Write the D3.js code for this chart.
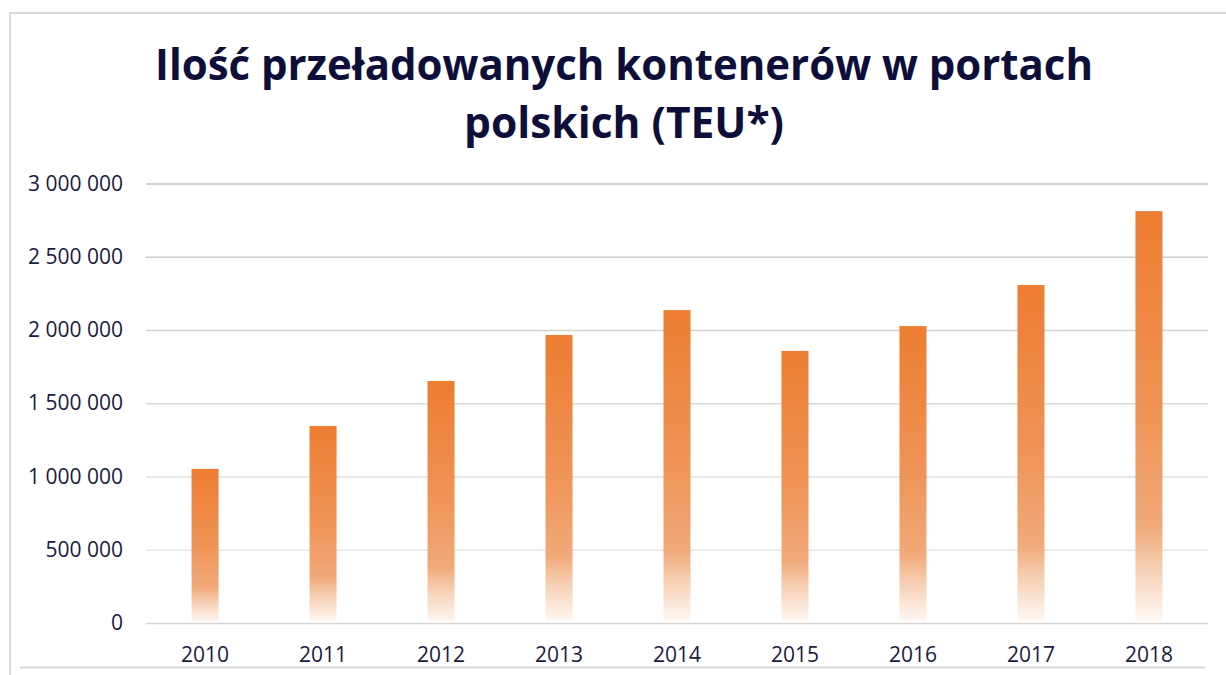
<!DOCTYPE html>
<html>
<head>
<meta charset="utf-8">
<script src="https://cdn.jsdelivr.net/npm/d3@7"></script>
<style>
  html, body { margin: 0; padding: 0; background: #fff; }
  svg { display: block; }
</style>
</head>
<body>
<div id="chart"></div>
<script>
const years = ['2010', '2011', '2012', '2013', '2014', '2015', '2016', '2017', '2018'];
const teu = [1052000, 1345000, 1652000, 1966000, 2136000, 1857000, 2027000, 2307000, 2811000];
const yTicks = [0, 500000, 1000000, 1500000, 2000000, 2500000, 3000000];
const titleLines = ['Ilość przeładowanych kontenerów w portach', 'polskich (TEU*)'];

const totalW = 1226, totalH = 675;
const margin = { top: 183.5, right: 18, bottom: 52, left: 146 };
const W = totalW - margin.left - margin.right;
const H = totalH - margin.top - margin.bottom;

const plFormat = d3.formatLocale({ thousands: '\u00a0', grouping: [3], decimal: ',', currency: ['', ' zł'] }).format(',d');

const svg = d3.select('#chart').append('svg')
  .attr('width', totalW).attr('height', totalH);

// frame
const frame = svg.append('g').attr('stroke', '#d9d9d9').attr('stroke-width', 2).attr('fill', 'none');
frame.append('path').attr('d', `M10,${totalH} V13 H${totalW}`);
frame.append('line').attr('x1', 20).attr('x2', 1205).attr('y1', 667.5).attr('y2', 667.5);

// title
const titleFit = [938, 320];
svg.append('g').selectAll('text')
  .data(titleLines).enter().append('text')
  .attr('x', 624).attr('y', (d, i) => 80 + i * 58)
  .attr('text-anchor', 'middle')
  .attr('fill', '#0e0e3a')
  .attr('font-family', "'Open Sans', sans-serif")
  .attr('font-weight', 700)
  .attr('font-size', '43px')
  .attr('textLength', (d, i) => titleFit[i])
  .attr('lengthAdjust', 'spacingAndGlyphs')
  .text(d => d);

const g = svg.append('g').attr('transform', `translate(${margin.left},${margin.top})`);

const x = d3.scaleBand().domain(years).range([0, W]).paddingInner(0.771).paddingOuter(0.386);
const y = d3.scaleLinear().domain([0, 3000000]).range([H, 0]);

const gridColor = d3.scaleLinear().domain([0, 3000000]).range(['#ececec', '#c6c6c6']);

// gridlines + y labels
const yAxis = g.append('g').call(d3.axisLeft(y).tickValues(yTicks).tickSize(-W).tickPadding(23).tickFormat(plFormat));
yAxis.select('.domain').remove();
yAxis.selectAll('.tick line')
  .attr('stroke', d => d === 0 ? '#d4d4d4' : gridColor(d))
  .attr('stroke-width', 1.5);
yAxis.selectAll('.tick text')
  .attr('fill', '#1a1a3c')
  .attr('font-family', "'Open Sans', sans-serif")
  .attr('font-size', '21px');

// gradient
const defs = svg.append('defs');
const grad = defs.append('linearGradient').attr('id', 'barGrad')
  .attr('x1', 0).attr('y1', 0).attr('x2', 0).attr('y2', 1);
[[0, '#ED7D31'], [0.5, '#EF9457'], [0.77, '#F1AA7A'], [0.86, '#F6CDB0'], [1, '#FFFAF7']].forEach(([o, c]) => {
  grad.append('stop').attr('offset', o).attr('stop-color', c);
});

// bars
g.selectAll('.bar')
  .data(years.map((yr, i) => ({ yr, v: teu[i] })))
  .enter().append('rect')
  .attr('class', 'bar')
  .attr('x', d => x(d.yr))
  .attr('width', x.bandwidth())
  .attr('y', d => y(d.v))
  .attr('height', d => H - y(d.v))
  .attr('fill', 'url(#barGrad)');

// x axis
const xAxis = g.append('g').attr('transform', `translate(0,${H})`)
  .call(d3.axisBottom(x).tickSize(0).tickPadding(24));
xAxis.select('.domain').remove();
xAxis.selectAll('.tick text')
  .attr('fill', '#1a1a3c')
  .attr('font-family', "'Open Sans', sans-serif")
  .attr('font-size', '21px');
</script>
</body>
</html>
